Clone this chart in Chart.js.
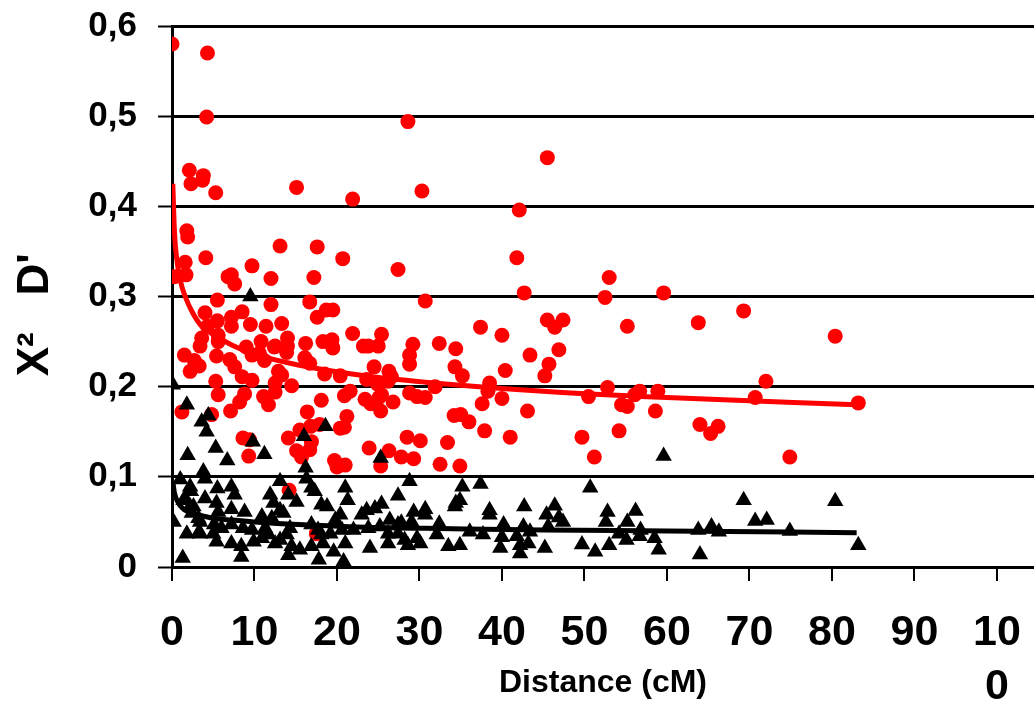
<!DOCTYPE html>
<html>
<head>
<meta charset="utf-8">
<script src="https://cdn.jsdelivr.net/npm/chart.js@4.4.1/dist/chart.umd.min.js"></script>
<style>
  html, body { margin: 0; padding: 0; background: #fff; overflow: hidden; }
  #wrap { position: relative; width: 1034px; height: 702px; }
</style>
</head>
<body>
<div id="wrap"><canvas id="chart"></canvas></div>
<script>
// D' values (red circles), distance in cM
const redDistance = [
  0.0, 4.3, 4.2, 2.1, 3.8, 2.3, 3.7, 5.3, 15.1,
  28.6, 21.9, 30.3, 42.1, 20.7, 27.4, 41.8, 42.7, 30.7,
  45.5, 53.0, 52.5, 59.6, 45.5, 47.4, 46.4, 55.2, 63.8, 43.4, 46.9, 45.7, 45.2,
  52.8, 56.7, 56.1, 58.9, 50.5, 54.5, 55.2, 58.6, 43.1, 54.2, 49.7, 51.2, 64.0, 65.3, 66.2,
  69.3, 80.4, 72.0, 70.7, 83.2, 74.9,
  19.5, 21.9, 25.4, 37.4, 40.0, 19.4, 19.5, 23.2, 23.8, 25.0, 29.2, 32.4, 34.4,
  28.8, 28.8, 24.5, 34.3, 35.2, 40.4, 26.3, 26.6, 20.4, 23.6, 24.9, 26.2, 38.5, 38.3,
  40.0, 28.8, 29.7, 30.7, 31.9, 25.4, 25.1, 20.9, 21.6, 23.4, 24.1, 26.8, 25.3, 37.6,
  21.2, 20.9, 34.2, 35.0, 36.0, 37.9, 41.0, 28.5, 30.1, 33.4, 23.9, 26.3, 27.8, 29.3,
  19.7, 21.0, 25.3, 32.5, 34.9, 20.0,
  1.8, 1.9, 13.1, 17.6, 4.1, 1.6, 9.7, 0.3, 1.7, 6.8, 7.2, 7.6, 12.0, 17.2,
  5.5, 12.0, 16.7, 18.7, 17.6, 4.0, 8.5, 7.2, 5.5, 4.3, 7.2, 9.5, 11.4, 13.3,
  3.6, 5.6, 3.4, 5.6, 14.0, 14.0, 12.5, 10.8, 9.0, 16.2, 18.3,
  1.5, 2.7, 3.3, 2.2, 5.4, 7.0, 7.6, 9.7, 11.2, 10.6, 12.4, 13.9, 16.1, 16.7,
  5.3, 5.6, 8.5, 9.7, 12.9, 13.3, 12.5, 12.5, 14.5, 18.1, 18.5, 8.8, 8.2, 7.1,
  11.1, 11.7, 16.4, 1.2, 4.8, 8.6, 9.4, 9.3, 14.1, 15.1, 15.7, 16.7,
  15.5, 16.9, 20.4, 14.2, 17.5, 16.8, 17.9
];
const redDPrime = [
  0.580, 0.570, 0.499, 0.440, 0.434, 0.425, 0.429, 0.415, 0.421,
  0.494, 0.408, 0.417, 0.396, 0.342, 0.330, 0.343, 0.304, 0.295,
  0.454, 0.321, 0.299, 0.304, 0.274, 0.274, 0.266, 0.267, 0.271, 0.235, 0.241, 0.225, 0.212,
  0.199, 0.195, 0.191, 0.195, 0.189, 0.180, 0.178, 0.173, 0.173, 0.151, 0.144, 0.122, 0.158, 0.148, 0.156,
  0.284, 0.256, 0.206, 0.188, 0.182, 0.122,
  0.285, 0.259, 0.258, 0.266, 0.257, 0.252, 0.243, 0.245, 0.245, 0.245, 0.247, 0.248, 0.242,
  0.235, 0.225, 0.222, 0.222, 0.212, 0.218, 0.217, 0.211, 0.212, 0.208, 0.203, 0.206, 0.204, 0.195,
  0.187, 0.193, 0.189, 0.188, 0.200, 0.191, 0.188, 0.190, 0.195, 0.186, 0.181, 0.183, 0.173, 0.181,
  0.167, 0.155, 0.168, 0.169, 0.161, 0.151, 0.144, 0.144, 0.140, 0.138, 0.132, 0.129, 0.122, 0.120,
  0.118, 0.113, 0.112, 0.114, 0.112, 0.111,
  0.373, 0.366, 0.356, 0.355, 0.343, 0.338, 0.334, 0.322, 0.324, 0.322, 0.324, 0.314, 0.320, 0.321,
  0.296, 0.291, 0.294, 0.285, 0.277, 0.282, 0.283, 0.277, 0.273, 0.267, 0.267, 0.269, 0.267, 0.270,
  0.254, 0.257, 0.245, 0.250, 0.254, 0.245, 0.245, 0.250, 0.244, 0.248, 0.250,
  0.235, 0.229, 0.223, 0.217, 0.234, 0.230, 0.222, 0.235, 0.229, 0.237, 0.244, 0.238, 0.232, 0.226,
  0.206, 0.191, 0.211, 0.207, 0.217, 0.213, 0.204, 0.194, 0.201, 0.185, 0.214, 0.192, 0.183, 0.173,
  0.189, 0.180, 0.172, 0.172, 0.169, 0.143, 0.141, 0.123, 0.143, 0.129, 0.122, 0.130,
  0.152, 0.139, 0.154, 0.085, 0.037, 0.156, 0.158
];

// X² values (black triangles)
const blackDistance = [
  0.1, 1.8, 3.6, 4.4, 4.2, 9.8, 16.0, 18.6, 9.5,
  1.9, 5.3, 6.7, 11.2, 3.8, 16.2, 25.3, 4.0, 28.8,
  1.0, 2.2, 2.3, 5.5, 7.2, 7.6, 13.1, 14.1, 15.1, 16.3, 16.9, 17.3, 11.9, 12.3,
  1.6, 2.6, 4.0, 5.4, 0.2, 1.8, 3.3, 1.3, 21.0, 21.3, 27.4,
  18.1, 18.8, 25.4, 23.6, 24.6, 29.3, 5.6, 7.2, 8.8, 1.4, 2.2, 2.4, 3.2, 3.4,
  10.9, 12.1, 13.1, 13.5, 20.4, 19.8, 26.4, 27.4, 29.1, 5.1, 6.0, 5.0, 7.2, 8.6,
  9.7, 3.4, 11.3, 11.7, 13.9, 14.3, 16.9, 17.7, 18.1, 19.2, 20.6, 22.0, 23.8, 25.2,
  26.2, 27.4, 28.2, 29.7, 5.4, 7.2, 8.4, 9.9, 10.9, 12.5, 13.1, 14.5, 15.5, 16.9,
  18.3, 19.6, 21.0, 24.0, 26.2, 28.6, 30.1, 8.4, 14.1, 17.8, 20.8,
  35.2, 37.4, 23.0, 30.7, 30.7, 34.4, 34.9, 34.3, 38.5, 38.5, 42.7, 27.8, 28.8, 32.4,
  40.2, 42.6, 32.1, 36.1, 37.7, 40.0, 41.8, 33.5, 34.9, 39.8, 42.2,
  59.6, 50.7, 46.4, 45.4, 46.9, 47.4, 45.6, 43.4, 43.2, 45.2, 42.2, 52.8, 52.6, 56.2,
  55.2, 56.8, 54.2, 55.1, 56.7, 49.7, 51.3, 53.0, 58.5, 59.0, 63.8, 65.4, 66.3, 64.0,
  69.3, 80.4, 70.7, 72.1, 74.9, 83.2
];
const blackX2 = [
  0.202, 0.180, 0.161, 0.168, 0.150, 0.139, 0.145, 0.156, 0.300,
  0.124, 0.132, 0.118, 0.125, 0.106, 0.110, 0.121, 0.098, 0.095,
  0.097, 0.089, 0.084, 0.087, 0.089, 0.080, 0.095, 0.080, 0.072, 0.098, 0.088, 0.084, 0.080, 0.071,
  0.076, 0.067, 0.076, 0.071, 0.050, 0.037, 0.039, 0.010, 0.088, 0.074, 0.079,
  0.069, 0.067, 0.070, 0.063, 0.065, 0.061, 0.061, 0.064, 0.061, 0.074, 0.067, 0.060, 0.054, 0.050,
  0.056, 0.054, 0.063, 0.060, 0.058, 0.052, 0.052, 0.047, 0.049, 0.047, 0.043, 0.037, 0.047, 0.043,
  0.041, 0.037, 0.043, 0.036, 0.036, 0.043, 0.047, 0.041, 0.036, 0.037, 0.041, 0.041, 0.043, 0.045,
  0.037, 0.037, 0.030, 0.032, 0.028, 0.026, 0.023, 0.028, 0.032, 0.026, 0.030, 0.023, 0.019, 0.023,
  0.026, 0.017, 0.026, 0.021, 0.026, 0.024, 0.026, 0.011, 0.013, 0.008, 0.006,
  0.089, 0.092, 0.058, 0.064, 0.058, 0.071, 0.074, 0.067, 0.063, 0.058, 0.067, 0.049, 0.046, 0.048,
  0.047, 0.045, 0.036, 0.039, 0.036, 0.033, 0.034, 0.023, 0.024, 0.021, 0.015,
  0.123, 0.088, 0.068, 0.058, 0.055, 0.050, 0.045, 0.039, 0.026, 0.021, 0.024, 0.061, 0.050, 0.062,
  0.050, 0.041, 0.037, 0.030, 0.034, 0.025, 0.017, 0.024, 0.032, 0.019, 0.041, 0.045, 0.039, 0.014,
  0.074, 0.073, 0.051, 0.052, 0.040, 0.024
];

// trend curves
const trendDistance = [0.1, 0.3, 0.6, 1, 1.6, 2.5, 3.6, 5, 7.3, 10, 15.3, 23.4, 30.7, 45, 60, 83];
const redTrend = [0.425, 0.371, 0.340, 0.318, 0.300, 0.282, 0.267, 0.258, 0.246, 0.236, 0.224, 0.212, 0.205, 0.195, 0.188, 0.180];
const blackTrend = [0.095, 0.082, 0.074, 0.068, 0.063, 0.059, 0.057, 0.054, 0.052, 0.050, 0.047, 0.044, 0.043, 0.041, 0.040, 0.038];

const xTicks = [0, 10, 20, 30, 40, 50, 60, 70, 80, 90, 100];
const yTickLabels = ['0', '0,1', '0,2', '0,3', '0,4', '0,5', '0,6'];

const toPoints = (xs, ys) => xs.map((x, i) => ({ x: x, y: ys[i] }));

const boldFont = 'Liberation Sans, Arial, sans-serif';

// keep the plot area where the reference has it (labels may overhang)
const noPadding = (scale) => {
  scale.paddingTop = 0;
  scale.paddingBottom = 0;
  scale.paddingLeft = 0;
  scale.paddingRight = 0;
};

new Chart(document.getElementById('chart'), {
  type: 'scatter',
  data: {
    datasets: [
      {
        label: 'X2 trend',
        data: toPoints(trendDistance, blackTrend),
        showLine: true,
        borderColor: '#000',
        borderWidth: 5,
        pointRadius: 0,
        cubicInterpolationMode: 'monotone',
      },
      {
        label: 'X2',
        data: toPoints(blackDistance, blackX2),
        pointStyle: 'triangle',
        pointRadius: 9.5,
        backgroundColor: '#000',
        borderWidth: 0,
      },
      {
        label: "D' trend",
        data: toPoints(trendDistance, redTrend),
        showLine: true,
        borderColor: '#ff0000',
        borderWidth: 5,
        pointRadius: 0,
        cubicInterpolationMode: 'monotone',
      },
      {
        label: "D'",
        data: toPoints(redDistance, redDPrime),
        pointRadius: 7.5,
        backgroundColor: '#ff0000',
        borderWidth: 0,
      },
    ],
  },
  options: {
    responsive: true,
    maintainAspectRatio: false,
    animation: false,
    layout: {
      autoPadding: false,
      padding: { top: 26, right: 0, left: 0, bottom: 0 },
    },
    plugins: {
      legend: { display: false },
      tooltip: { enabled: false },
    },
    scales: {
      x: {
        type: 'linear',
        min: 0,
        max: 104.5,
        afterBuildTicks: (scale) => {
          scale.ticks = xTicks.map((v) => ({ value: v }));
        },
        afterFit: (scale) => {
          scale.height = 135;
          noPadding(scale);
        },
        grid: {
          drawOnChartArea: false,
          drawTicks: true,
          tickLength: 14,
          color: '#000',
          lineWidth: 2,
        },
        border: { display: true, color: '#000', width: 3 },
        ticks: {
          color: '#000',
          padding: 25,
          maxRotation: 0,
          autoSkip: false,
          font: { family: boldFont, size: 43, weight: 'bold', lineHeight: '54px' },
          callback: (value) => (value === 100 ? ['10', '0'] : String(value)),
        },
        title: {
          display: true,
          text: 'Distance (cM)',
          color: '#000',
          font: { family: boldFont, size: 32, weight: 'bold' },
          padding: { top: 0, bottom: 0 },
        },
      },
      y: {
        min: 0,
        max: 0.6,
        afterBuildTicks: (scale) => {
          scale.ticks = yTickLabels.map((_, i) => ({ value: i / 10 }));
        },
        afterFit: (scale) => {
          scale.width = 172;
          noPadding(scale);
        },
        grid: {
          color: '#000',
          lineWidth: 3,
          drawTicks: true,
          tickLength: 14,
          tickWidth: 2,
        },
        border: { display: true, color: '#000', width: 3 },
        ticks: {
          color: '#000',
          padding: 21,
          font: { family: boldFont, size: 35, weight: 'bold' },
          callback: (value) => yTickLabels[Math.round(value * 10)],
        },
        title: {
          display: true,
          text: "X\u00B2   D'   ",
          color: '#000',
          font: { family: boldFont, size: 44, weight: 'bold' },
          padding: { top: 9, bottom: 0 },
        },
      },
    },
  },
});
</script>
</body>
</html>
